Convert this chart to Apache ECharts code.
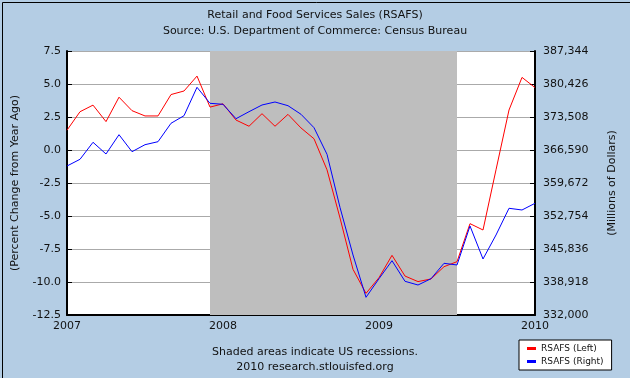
<!DOCTYPE html>
<html>
<head>
<meta charset="utf-8">
<script src="https://cdn.jsdelivr.net/npm/echarts@6/dist/echarts.min.js"></script>
<style>
html,body{margin:0;padding:0;background:#b4cde4;}
#chart{width:630px;height:378px;}
</style>
</head>
<body>
<div id="chart"></div>
<script>
// Months Jan 2007 .. Jan 2010
var months = ['2007-01','2007-02','2007-03','2007-04','2007-05','2007-06','2007-07','2007-08','2007-09','2007-10','2007-11','2007-12',
  '2008-01','2008-02','2008-03','2008-04','2008-05','2008-06','2008-07','2008-08','2008-09','2008-10','2008-11','2008-12',
  '2009-01','2009-02','2009-03','2009-04','2009-05','2009-06','2009-07','2009-08','2009-09','2009-10','2009-11','2009-12','2010-01'];
// RSAFS percent change from year ago (left axis)
var pctChange = [1.5, 2.9, 3.4, 2.15, 4.0, 2.98, 2.58, 2.58, 4.2, 4.47, 5.6, 3.25,
  3.5, 2.27, 1.8, 2.75, 1.8, 2.7, 1.67, 0.85, -1.5, -5.15,
  -9.04, -10.86, -9.67, -7.98, -9.55, -9.97, -9.77, -8.84, -8.46,
  -5.58, -6.06, -1.5, 3.03, 5.5, 4.73];
// RSAFS millions of dollars (right axis)
var sales = [363236, 364641, 368205, 365752, 369798, 366234, 367702, 368330, 372188, 373781, 379735, 376380,
  376171, 373152, 374620, 376024, 376653, 375878, 374075, 371265, 365689, 354550,
  344578, 335711, 339610, 343383, 339065, 338289, 339610, 342838, 342482,
  350658, 343740, 348771, 354369, 354012, 355417];
var yearLabels = ['2007','2008','2009','2010'];
var recessionStart = '2007-12';
var recessionEnd = '2009-07';
var leftTicks = {min:-12.5, max:7.5, interval:2.5};
var rightTicks = {min:332000, max:387344, interval:6918};

var FONT = 'DejaVu Sans';
var redData = pctChange.map(function(v,i){return [i,v];});
var blueData = sales.map(function(v,i){return [i,v];});
function commas(v){return String(Math.round(v)).replace(/\B(?=(\d{3})+(?!\d))/g, ',');}

var chart = echarts.init(document.getElementById('chart'), null, {renderer:'canvas'});
chart.setOption({
  backgroundColor:'#b4cde4',
  animation:false,
  title:{
    text:'Retail and Food Services Sales (RSAFS)',
    subtext:'Source: U.S. Department of Commerce: Census Bureau',
    left:'center', top:5, itemGap:5,
    textStyle:{fontFamily:FONT,fontSize:11,fontWeight:'normal',color:'#111'},
    subtextStyle:{fontFamily:FONT,fontSize:11,color:'#111'}
  },
  grid:{left:67,right:95,top:51,bottom:63,show:true,backgroundColor:'#ffffff',borderWidth:0},
  legend:{
    orient:'vertical', left:519, top:340, width:90,
    backgroundColor:'#ffffff', borderColor:'#000', borderWidth:1,
    padding:[4,8,4,8], itemGap:4, itemWidth:9, itemHeight:3,
    textStyle:{fontFamily:FONT,fontSize:9,color:'#111'},
    data:[{name:'RSAFS (Left)',icon:'rect'},{name:'RSAFS (Right)',icon:'rect'}]
  },
  xAxis:{
    type:'value', min:0, max:months.length-1, interval:12,
    axisLine:{onZero:false,lineStyle:{color:'#000',width:2}},
    axisTick:{inside:true,length:5,lineStyle:{color:'#000',width:1}},
    splitLine:{show:false},
    axisLabel:{fontFamily:FONT,fontSize:11,color:'#111',margin:6,
      formatter:function(v){return yearLabels[Math.round(v/12)];}}
  },
  yAxis:[{
    type:'value', position:'left', min:leftTicks.min, max:leftTicks.max, interval:leftTicks.interval,
    name:'(Percent Change from Year Ago)', nameLocation:'middle', nameRotate:90, nameGap:46,
    nameTextStyle:{fontFamily:FONT,fontSize:11,color:'#111'},
    axisLine:{show:true,onZero:false,lineStyle:{color:'#000',width:2}},
    axisTick:{show:true,inside:true,length:5,lineStyle:{color:'#000'}},
    splitLine:{show:true,lineStyle:{color:'#aaaaaa',width:1}},
    axisLabel:{fontFamily:FONT,fontSize:11,color:'#111',margin:6,
      formatter:function(v){return v.toFixed(1);}}
  },{
    type:'value', position:'right', min:rightTicks.min, max:rightTicks.max, interval:rightTicks.interval,
    name:'(Millions of Dollars)', nameLocation:'middle', nameRotate:90, nameGap:72,
    nameTextStyle:{fontFamily:FONT,fontSize:11,color:'#111'},
    axisLine:{show:true,onZero:false,lineStyle:{color:'#000',width:2}},
    axisTick:{show:true,inside:true,length:5,lineStyle:{color:'#000'}},
    splitLine:{show:false},
    axisLabel:{fontFamily:FONT,fontSize:11,color:'#111',margin:8,formatter:commas}
  }],
  graphic:[
    {type:'rect',left:0,top:0,shape:{x:0.5,y:0.5,width:629,height:377},
      style:{fill:null,stroke:'#000',lineWidth:1},silent:true,z:100},
    {type:'text',x:315,y:352,style:{text:'Shaded areas indicate US recessions.',fontFamily:FONT,fontSize:11,fill:'#111',align:'center',verticalAlign:'middle'}},
    {type:'text',x:315,y:367,style:{text:'2010 research.stlouisfed.org',fontFamily:FONT,fontSize:11,fill:'#111',align:'center',verticalAlign:'middle'}}
  ],
  series:[{
    name:'recession', type:'line', data:[], z:1, silent:true,
    markArea:{silent:true,itemStyle:{color:'#bebebe',opacity:1},
      data:[[{xAxis:months.indexOf(recessionStart)},{xAxis:months.indexOf(recessionEnd)}]]}
  },{
    name:'RSAFS (Left)', type:'line', yAxisIndex:0, data:redData, showSymbol:false, symbol:'none',
    lineStyle:{color:'#ff0000',width:1}, itemStyle:{color:'#ff0000'}, z:3
  },{
    name:'RSAFS (Right)', type:'line', yAxisIndex:1, data:blueData, showSymbol:false, symbol:'none',
    lineStyle:{color:'#0000ff',width:1}, itemStyle:{color:'#0000ff'}, z:4
  }]
});
</script>
</body>
</html>
